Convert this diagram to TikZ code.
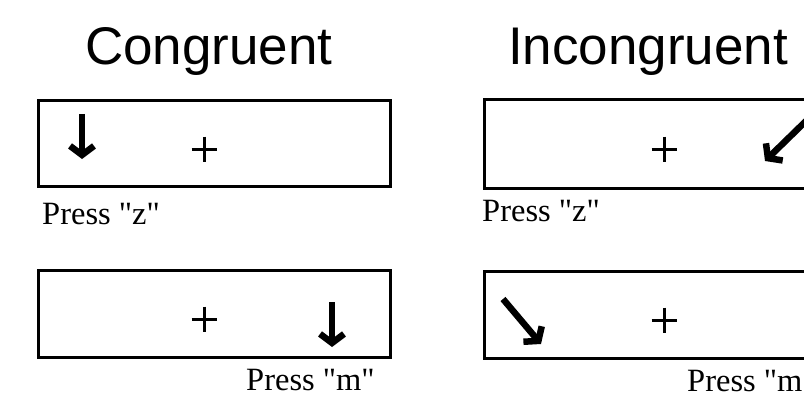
\documentclass[tikz,border=0pt]{standalone}
\usepackage{fontspec}
\setmainfont{Liberation Serif}[Ligatures=TeXOff]
\newfontfamily\titlefont{Liberation Sans}
\usetikzlibrary{arrows.meta}
\begin{document}
\begin{tikzpicture}[x=1pt,y=-1pt,
  panel/.style={draw, line width=3pt},
  heading/.style={font=\titlefont\fontsize{53}{60}\selectfont, anchor=base west, inner sep=0pt},
  cue/.style={font=\fontsize{32.5}{38}\selectfont, anchor=base west, inner sep=0pt},
  cross/.style={line width=3pt},
  pointer/.style={line width=6.5pt, -{Straight Barb[length=9pt,width=24pt,line join=miter]}}]
\useasboundingbox (0,0) rectangle (804,396);
\clip (0,0) rectangle (804,396);
\fill[white] (0,0) rectangle (804,396);

% column headings
\node[heading] (congTitle) at (85,65) {Congruent};
\node[heading] (incTitle) at (508,65) {Incongruent};

% stimulus panels
\draw[panel] (38.5,100.5) rectangle (390.5,186.5);
\draw[panel] (38.5,270.5) rectangle (390.5,357);
\draw[panel] (484,100) rectangle (838,188);
\draw[panel] (484,271) rectangle (838,358);

% fixation crosses
\foreach \cx/\cy in {204/149, 204/319, 664/149, 664/320}
  \draw[cross] (\cx-12.5,\cy) -- (\cx+12.5,\cy) (\cx,\cy-12.5) -- (\cx,\cy+12.5);

% target arrows
\coordinate (a1s) at (82,114);  \coordinate (a1e) at (82,159);
\coordinate (a2s) at (332,302); \coordinate (a2e) at (332,347);
\coordinate (a3s) at (806,121); \coordinate (a3e) at (765,161);
\coordinate (a4s) at (503,299); \coordinate (a4e) at (541,344);
\draw[pointer] (a1s) -- (a1e);
\draw[pointer] (a2s) -- (a2e);
\draw[pointer] (a3s) -- (a3e);
\draw[pointer] (a4s) -- (a4e);

% response labels
\node[cue] (pz1) at (42,224) {Press "z"};
\node[cue] (pz2) at (482,221) {Press "z"};
\node[cue] (pm1) at (246,390) {Press "m"};
\node[cue] (pm2) at (687,391) {Press "m"};
\end{tikzpicture}
\end{document}
